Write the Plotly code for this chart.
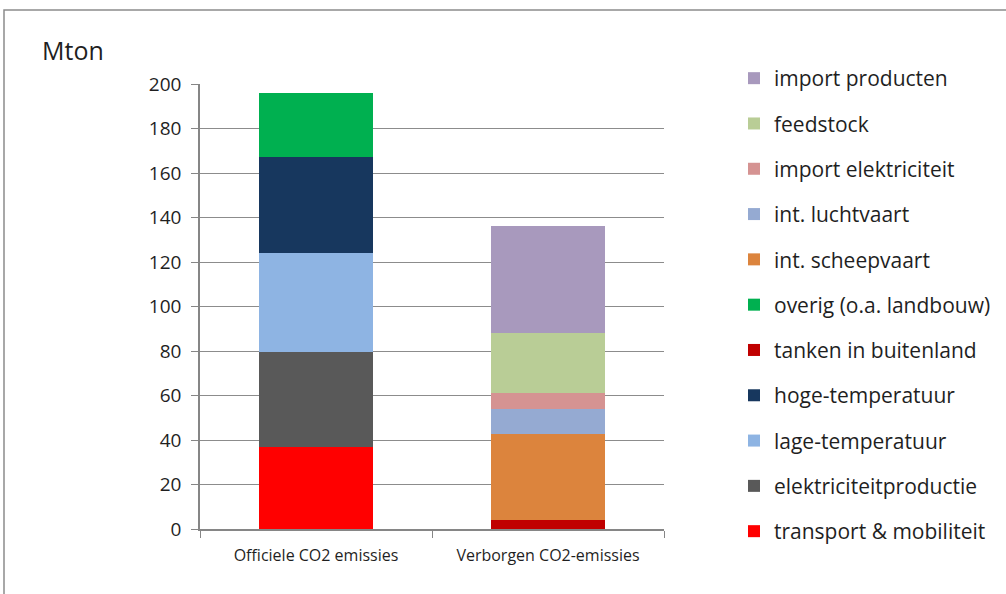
import plotly.graph_objects as go

categories = ["Officiele CO2 emissies", "Verborgen CO2-emissies"]

# series in stacking order (bottom to top)
series_names = [
    "transport & mobiliteit",
    "elektriciteitproductie",
    "lage-temperatuur",
    "hoge-temperatuur",
    "tanken in buitenland",
    "overig (o.a. landbouw)",
    "int. scheepvaart",
    "int. luchtvaart",
    "import elektriciteit",
    "feedstock",
    "import producten",
]
transport = [37.0, None]
elektriciteit = [42.4, None]
lage_temp = [44.8, None]
hoge_temp = [43.1, None]
tanken = [None, 3.9]
overig = [28.7, None]
scheepvaart = [None, 38.7]
luchtvaart = [None, 11.3]
import_elek = [None, 7.4]
feedstock = [None, 26.9]
import_producten = [None, 47.8]

series_values = [transport, elektriciteit, lage_temp, hoge_temp, tanken, overig,
                 scheepvaart, luchtvaart, import_elek, feedstock, import_producten]
colors = ["#FF0000", "#595959", "#8EB4E3", "#17375E", "#C00000", "#00B050",
          "#DC843D", "#95AAD2", "#D59392", "#B9CD96", "#A899BD"]

y_ticks = [0, 20, 40, 60, 80, 100, 120, 140, 160, 180, 200]

fig = go.Figure()
n = len(series_names)
for i, (name, vals, col) in enumerate(zip(series_names, series_values, colors)):
    fig.add_trace(go.Bar(
        x=categories, y=vals, name=name, legendgroup=name,
        legendrank=100 * (n - i),
        marker=dict(color=col, line=dict(width=0)),
        width=0.49,
    ))

FONT = "'Open Sans', 'Liberation Sans', sans-serif"

fig.update_layout(
    barmode="stack",
    width=1006, height=594,
    margin=dict(l=200, r=342, t=84, b=65, autoexpand=False),
    paper_bgcolor="white", plot_bgcolor="white",
    font=dict(family=FONT, color="#1F1F1F"),
    showlegend=True,
    legend=dict(
        traceorder="grouped",
        tracegroupgap=15,
        maxheight=580,
        x=(734 - 200) / 464, xanchor="left",
        y=(529.3 - 58) / 445.3, yanchor="top",
        font=dict(size=21, color="#1F1F1F", family=FONT),
        itemclick=False,
    ),
    xaxis=dict(
        range=[-0.5, 1.5],
        tickson="boundaries",
        ticks="outside", ticklen=7, tickcolor="#868686",
        showline=True, linecolor="#868686", linewidth=1.5,
        tickfont=dict(size=16, color="#1F1F1F", family=FONT),
        ticklabelstandoff=11,
        showgrid=False,
    ),
    yaxis=dict(
        range=[0, 200],
        tickvals=y_ticks,
        ticks="outside", ticklen=7, tickcolor="#868686",
        showline=True, linecolor="#868686", linewidth=1.5,
        gridcolor="#8C8C8C", gridwidth=1.3,
        tickfont=dict(size=19, color="#1F1F1F", family=FONT),
        ticklabelstandoff=6,
        zeroline=False,
    ),
    annotations=[dict(
        text="Mton", xref="paper", yref="paper",
        x=(40 - 200) / 464, y=(529.3 - 50) / 445.3,
        xanchor="left", yanchor="middle", showarrow=False,
        font=dict(size=25, color="#1F1F1F", family=FONT),
    )],
    shapes=[dict(
        type="rect", xref="paper", yref="paper",
        x0=(4 - 200) / 464, x1=(1010 - 200) / 464,
        y0=(529.3 - 600) / 445.3, y1=(529.3 - 10) / 445.3,
        line=dict(color="#8C8C8C", width=1.5), fillcolor="rgba(0,0,0,0)",
        layer="below",
    )],
)

fig.write_html("out.html", config={"displayModeBar": False},
               post_script="document.body.style.margin='0';")
